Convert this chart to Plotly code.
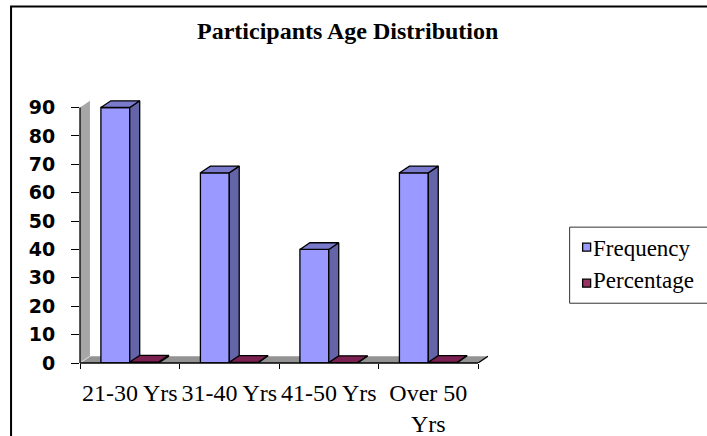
import plotly.graph_objects as go

# ---- data ----
categories = ["21-30 Yrs", "31-40 Yrs", "41-50 Yrs", "Over 50<br>Yrs"]
frequency = [90, 67, 40, 67]
percentage = [0.34, 0.25, 0.15, 0.25]
y_ticks = [0, 10, 20, 30, 40, 50, 60, 70, 80, 90]

# ---- geometry of the pseudo-3D look (data units) ----
BAR_W = 0.29          # width of each bar's front face
DX = 0.10             # depth offset to the right
DY = 2.36             # depth offset upwards
Y_MAX = 93

# plot-area pixel box (used to place paper-referenced decorations)
W, H = 707, 436
PL, PR, PT, PB = 80.0, 488.3, 99.0, 362.7


def px(x):
    return (x - PL) / (PR - PL)


def py(y):
    return (PB - y) / (PB - PT)


FREQ_FRONT, FREQ_SIDE, FREQ_TOP = "#9999FF", "#6464A8", "#7A7ACC"
PCT_FRONT, PCT_SIDE, PCT_TOP = "#993366", "#5E1A3E", "#7B2050"
EDGE = dict(color="black", width=1.3)


def faces(lefts, values):
    """Side and top polygons for a row of boxes (None-separated)."""
    sx, sy, tx, ty = [], [], [], []
    for x0, v in zip(lefts, values):
        x1 = x0 + BAR_W
        sx += [x1, x1 + DX, x1 + DX, x1, x1, None]
        sy += [0, DY, v + DY, v, 0, None]
        tx += [x0, x1, x1 + DX, x0 + DX, x0, None]
        ty += [v, v, v + DY, v + DY, v, None]
    return sx, sy, tx, ty


idx = list(range(len(categories)))
freq_left = [i - BAR_W for i in idx]
pct_left = [i for i in idx]

fig = go.Figure()

# Frequency boxes
fig.add_trace(go.Bar(x=idx, y=frequency, width=BAR_W, offset=-BAR_W,
                     marker=dict(color=FREQ_FRONT, line=EDGE), name="Frequency",
                     hoverinfo="skip"))
sx, sy, tx, ty = faces(freq_left, frequency)
fig.add_trace(go.Scatter(x=sx, y=sy, fill="toself", fillcolor=FREQ_SIDE, mode="lines",
                         line=EDGE, hoverinfo="skip"))
fig.add_trace(go.Scatter(x=tx, y=ty, fill="toself", fillcolor=FREQ_TOP, mode="lines",
                         line=EDGE, hoverinfo="skip"))

# Percentage boxes
fig.add_trace(go.Bar(x=idx, y=percentage, width=BAR_W, offset=0,
                     marker=dict(color=PCT_FRONT, line=EDGE), name="Percentage",
                     hoverinfo="skip"))
sx, sy, tx, ty = faces(pct_left, percentage)
fig.add_trace(go.Scatter(x=sx, y=sy, fill="toself", fillcolor=PCT_SIDE, mode="lines",
                         line=EDGE, hoverinfo="skip"))
fig.add_trace(go.Scatter(x=tx, y=ty, fill="toself", fillcolor=PCT_TOP, mode="lines",
                         line=EDGE, hoverinfo="skip"))

x_lo, x_hi = -0.5, len(categories) - 0.5
shapes = [
    # left wall
    dict(type="path", xref="x", yref="y", layer="below",
         path=f"M {x_lo},0 L {x_lo},{y_ticks[-1]} L {x_lo+DX},{y_ticks[-1]+DY} L {x_lo+DX},{DY} Z",
         fillcolor="#A6A6A6", line=dict(width=0)),
    # floor
    dict(type="path", xref="x", yref="y", layer="below",
         path=f"M {x_lo},0 L {x_hi},0 L {x_hi+DX},{DY} L {x_lo+DX},{DY} Z",
         fillcolor="#939393", line=dict(width=0)),
    # wall / floor crease
    dict(type="line", xref="x", yref="y", layer="below",
         x0=x_lo, y0=0, x1=x_lo + DX, y1=DY, line=dict(color="#E0E0E0", width=1)),
    # value axis line
    dict(type="line", xref="paper", yref="y", x0=0, x1=0, y0=0, y1=y_ticks[-1],
         line=dict(color="black", width=1.3)),
    # category axis line and floor edge
    dict(type="line", xref="x", yref="paper", x0=x_lo, x1=x_hi, y0=0, y1=0,
         line=dict(color="black", width=1.3)),
    dict(type="line", xref="x", yref="y", x0=x_hi, y0=0, x1=x_hi + DX, y1=DY,
         line=dict(color="black", width=1.3)),
    # chart frame
    dict(type="rect", xref="paper", yref="paper", x0=px(11), x1=px(740),
         y0=py(6.5), y1=py(470), line=dict(color="black", width=2)),
    # legend frame and swatches
    dict(type="rect", xref="paper", yref="paper", x0=px(570), x1=px(740),
         y0=py(227), y1=py(303), line=dict(color="#333333", width=1)),
    dict(type="rect", xref="paper", yref="paper", x0=px(583), x1=px(591),
         y0=py(243), y1=py(251), fillcolor=FREQ_FRONT, line=dict(color="black", width=1.3)),
    dict(type="rect", xref="paper", yref="paper", x0=px(583), x1=px(591),
         y0=py(279), y1=py(287), fillcolor=PCT_FRONT, line=dict(color="black", width=1.3)),
]

serif = "Liberation Serif, Times New Roman, serif"
annotations = [
    dict(text="<b>Participants Age Distribution</b>", xref="paper", yref="paper",
         x=px(348), y=py(31), xanchor="center", yanchor="middle", showarrow=False,
         font=dict(family=serif, size=24, color="black")),
    dict(text="Frequency", xref="paper", yref="paper", x=px(591), y=py(248),
         xanchor="left", yanchor="middle", showarrow=False,
         font=dict(family=serif, size=23, color="black")),
    dict(text="Percentage", xref="paper", yref="paper", x=px(591), y=py(280),
         xanchor="left", yanchor="middle", showarrow=False,
         font=dict(family=serif, size=23, color="black")),
]

fig.update_layout(
    width=W, height=H,
    margin=dict(l=PL, r=W - PR, t=PT, b=H - PB, autoexpand=False),
    paper_bgcolor="white", plot_bgcolor="white",
    showlegend=False, barmode="overlay",
    shapes=shapes, annotations=annotations,
    xaxis=dict(range=[x_lo, x_hi + DX], tickvals=idx, ticktext=categories,
               ticks="", showgrid=False, zeroline=False, showline=False,
               tickfont=dict(family=serif, size=24, color="black"),
               ticklabelstandoff=13,
               minor=dict(tickvals=[i - 0.5 for i in range(len(categories) + 1)],
                          ticks="outside", ticklen=5, tickwidth=1, tickcolor="black")),
    yaxis=dict(range=[0, Y_MAX], tickvals=y_ticks, ticks="outside", ticklen=8,
               tickwidth=1, tickcolor="black", showgrid=False, zeroline=False,
               showline=False, ticklabelstandoff=12,
               tickfont=dict(family="DejaVu Sans", size=19, color="black", weight="bold")),
)

fig.write_html("out.html")
